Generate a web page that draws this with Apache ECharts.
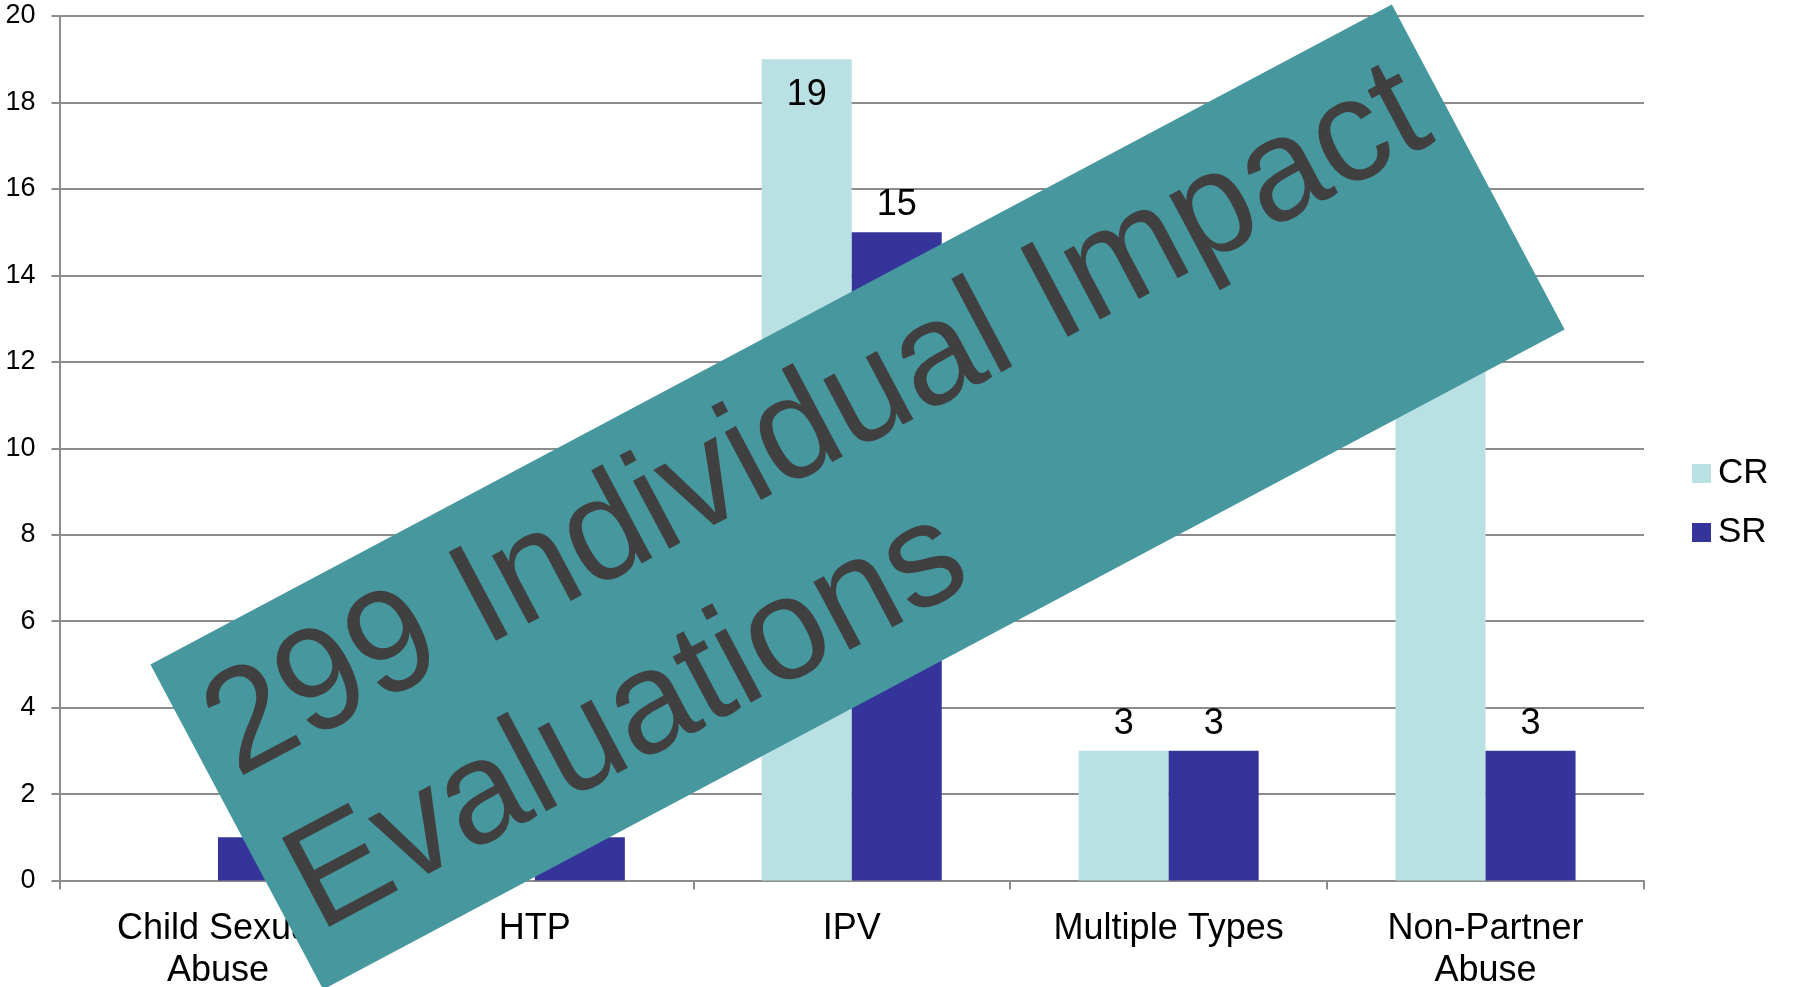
<!DOCTYPE html>
<html>
<head>
<meta charset="utf-8">
<script src="https://cdn.jsdelivr.net/npm/echarts@6/dist/echarts.min.js"></script>
<style>
  html, body { margin: 0; padding: 0; background: #fff; }
  #main { width: 1793px; height: 987px; }
</style>
</head>
<body>
<div id="main"></div>
<script>
const categories = ["Child Sexual\nAbuse", "HTP", "IPV", "Multiple Types", "Non-Partner\nAbuse"]
const crValues = [null, null, 19, 3, 15]
const srValues = [1, 1, 15, 3, 3]
const yTicks = [0, 2, 4, 6, 8, 10, 12, 14, 16, 18, 20]
const bannerLines = ["299 Individual Impact", "Evaluations"]

const FONT = '"Liberation Sans", Arial, sans-serif'
const chart = echarts.init(document.getElementById("main"))

// the label of the tallest bar sits inside its top, the rest above
function toBarData(values) {
  return values.map(v => ({
    value: v,
    label: v >= 19 ? { position: "insideTop", distance: 18 } : { position: "top", distance: 9 }
  }))
}

chart.setOption({
  animation: false,
  textStyle: { fontFamily: FONT },
  grid: { left: 59.5, right: 149, top: 16, bottom: 106.5, outerBoundsMode: "none", containLabel: false },
  legend: {
    orient: "vertical",
    left: 1687,
    top: 451,
    itemWidth: 19,
    itemHeight: 19,
    itemGap: 24,
    icon: "rect",
    textStyle: { fontSize: 35, color: "#000", fontFamily: FONT, padding: [0, 0, 0, 2] },
    data: ["CR", "SR"]
  },
  xAxis: {
    type: "category",
    data: categories,
    axisLine: { lineStyle: { color: "#8c8c8c", width: 2 } },
    axisTick: { show: true, length: 9, lineStyle: { color: "#8c8c8c", width: 2 } },
    axisLabel: { fontSize: 36, color: "#000", margin: 28, lineHeight: 42, interval: 0, fontFamily: FONT }
  },
  yAxis: {
    type: "value",
    min: yTicks[0],
    max: yTicks[yTicks.length - 1],
    interval: 2,
    axisLine: { show: true, lineStyle: { color: "#8c8c8c", width: 2 } },
    axisTick: { show: true, length: 8, lineStyle: { color: "#8c8c8c", width: 2 } },
    splitLine: { lineStyle: { color: "#8c8c8c", width: 2 } },
    axisLabel: { fontSize: 27, color: "#000", margin: 24, fontFamily: FONT }
  },
  series: [
    {
      name: "CR",
      type: "bar",
      data: toBarData(crValues),
      barWidth: 90,
      barGap: "0%",
      itemStyle: { color: "#b9e0e3" },
      label: { show: true, fontSize: 36, color: "#000", fontFamily: FONT }
    },
    {
      name: "SR",
      type: "bar",
      data: toBarData(srValues),
      barWidth: 90,
      barGap: "0%",
      itemStyle: { color: "#35349a" },
      label: { show: true, fontSize: 36, color: "#000", fontFamily: FONT }
    }
  ],
  graphic: [
    {
      type: "group",
      x: 857.5,
      y: 497,
      rotation: 28 * Math.PI / 180,
      z: 100,
      children: [
        {
          type: "rect",
          z: 100,
          shape: { x: -703, y: -184, width: 1406, height: 368 },
          style: { fill: "#46979e" }
        },
        {
          type: "text",
          z: 101,
          x: -680,
          y: -83,
          scaleX: 0.985,
          style: { text: bannerLines[0], font: '146px ' + FONT, fill: "#404040", align: "left", verticalAlign: "middle" }
        },
        {
          type: "text",
          z: 101,
          x: -680,
          y: 91,
          scaleX: 0.985,
          style: { text: bannerLines[1], font: '146px ' + FONT, fill: "#404040", align: "left", verticalAlign: "middle" }
        }
      ]
    }
  ]
})

window.onresize = function () {
  chart.resize()
}
</script>
</body>
</html>
